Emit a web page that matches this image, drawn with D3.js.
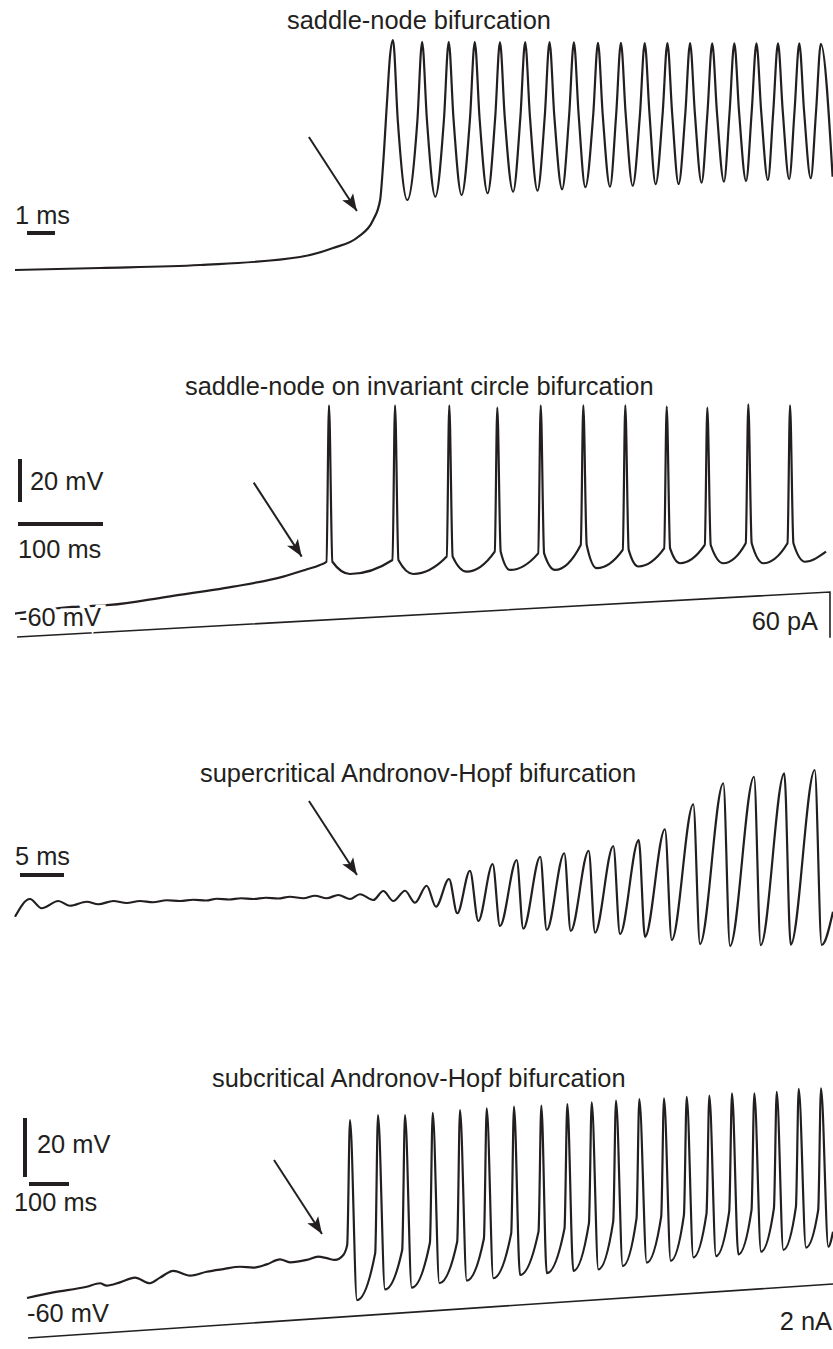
<!DOCTYPE html>
<html>
<head>
<meta charset="utf-8">
<script src="https://cdn.jsdelivr.net/npm/d3@7"></script>
<style>
  body { margin: 0; background: #fff; }
  text { font-family: "Liberation Sans", Arial, Helvetica, sans-serif; font-size: 25.4px; fill: #231f20; }
</style>
</head>
<body>
<svg id="fig" width="833" height="1349"></svg>
<script>
// saddle-node bifurcation (ms, mV)
const snRampT = [0, 3.04, 6.61, 10.18, 11.36, 12.25, 12.79, 13.04, 13.14, 13.29, 13.39];
const snRampV = [-60, -59.2, -58, -54.8, -51.2, -46.8, -40, -32, -18.8, 8, 25.2];
const snPeakT = [13.5, 14.54, 15.49, 16.42, 17.32, 18.22, 19.09, 19.96, 20.82, 21.64, 22.49, 23.3, 24.11, 24.9, 25.69, 26.48, 27.25, 28.01, 28.78];
const snPeakV = [32, 31.3, 31.3, 31.3, 31.2, 31.2, 31.2, 31.1, 30.9, 30.9, 30.8, 30.8, 30.8, 30.7, 30.7, 30.7, 30.7, 30.7, 30.5];
const snTroughT = [14.01, 15.01, 15.95, 16.88, 17.79, 18.66, 19.54, 20.37, 21.25, 22.06, 22.88, 23.7, 24.52, 25.32, 26.11, 26.89, 27.65, 28.42];
const snTroughV = [-32, -30.7, -30, -29.3, -28.7, -28.3, -27.7, -26.9, -26.7, -26.3, -25.7, -25.6, -25.1, -24.7, -24.4, -24, -23.7, -23.3];
const snEnd = [29.2, -22.7];
const snHalfWidth = 0.17; // ms from a peak to its half-height crossing

// saddle-node on invariant circle (ms, mV, pA)
const snicRampT = [0, 67.1, 111.8, 178.5, 256.8, 315.6, 341.2, 358.8];
const snicRampV = [-59.8, -56.7, -55.8, -52.0, -47.3, -42.6, -39.5, -37.2];
const snicSpikeT = [369.4, 447.1, 510.9, 567.4, 618.5, 668.6, 718.0, 766.7, 814.5, 862.7, 911.8];
const snicPeakV = [37, 37, 37, 36, 37, 37, 37, 36.5, 36, 37.5, 37];
const snicKneeV = [-35.7, -34.9, -33.3, -31, -31.8, -27.9, -30.2, -29.5, -27.9, -27.1, -27.1];
const snicTroughT = [394.1, 468.6, 531.4, 582.4, 635.3, 684.4, 733.3, 782.4, 833.3, 880.4, 929.4];
const snicTroughV = [-41.4, -41.4, -40.3, -39.5, -39.5, -38.7, -37.9, -36.4, -36.4, -36.4, -35.7];
const snicEnd = [954.1, -31.0];
const snicCurrentT = [2.4, 958.8];
const snicCurrentI = [0, 60];

// supercritical Andronov-Hopf (ms, mV)
const supStart = [0, -60.3];
const supPeakT = [1.7, 4.92, 8.15, 11.17, 14.2, 17.24, 20.26, 22.95, 25.68, 28.52, 31.25, 34.09, 36.74, 39.2, 41.85, 44.32, 46.78, 49.32, 51.7, 54.28, 57.01, 59.69, 62.42, 65.19, 67.99, 70.88, 73.86, 77.08, 80.49, 83.98, 87.42, 90.88];
const supPeakV = [-53.2, -54.0, -54.3, -54.0, -54.0, -53.7, -53.5, -53.1, -52.9, -52.7, -52.3, -51.9, -51.6, -51.3, -50.0, -49.9, -47.9, -45.2, -41.9, -39.2, -37.6, -36.3, -34.9, -33.9, -32.0, -29.6, -25.3, -15.3, -6.9, -4.3, -2.9, -1.6];
const supTroughT = [3.03, 6.25, 9.47, 12.69, 15.68, 18.75, 21.7, 24.32, 27.05, 29.89, 32.76, 35.42, 38.07, 40.72, 42.99, 45.45, 47.84, 50.26, 52.65, 55.11, 57.76, 60.42, 63.15, 65.91, 68.75, 71.59, 74.63, 77.84, 81.25, 84.74, 88.15, 91.67];
const supTroughV = [-56.9, -55.9, -55.3, -54.8, -54.5, -54.0, -53.8, -53.4, -53.2, -53.0, -52.9, -52.9, -53.2, -53.6, -54.0, -54.7, -56.3, -58.9, -62.0, -64.0, -65.1, -65.6, -66.0, -66.7, -67.3, -68.3, -69.6, -71.2, -72.0, -71.7, -71.5, -71.6];
const supEnd = [92.95, -58.3];

// subcritical Andronov-Hopf (ms, mV, nA)
const subRampT = [0, 65.8, 149.3, 182.5, 199.3, 232.5, 270, 307.5, 332.5, 365.8, 407.5, 449.3, 490.8, 532.5, 565.8, 599.3, 632.5, 657.5, 699.3, 728.3, 749.3, 770, 790.8];
const subRampV = [-60, -58.1, -56.2, -55.0, -55.8, -54.7, -53.1, -55.0, -53.1, -50.8, -52.4, -51.1, -50.2, -49.4, -49.7, -48.6, -46.9, -47.9, -47.1, -46.0, -46.5, -47.1, -45.4];
const subSpikeT = [807.5, 877.5, 945, 1014.3, 1082.5, 1149.3, 1217.5, 1285.8, 1350.8, 1411.8, 1472.5, 1530.8, 1592.5, 1649.3, 1705.8, 1762.5, 1818.3, 1874.3, 1929.3, 1985];
const subPeakV = [0.3, 2.0, 2.0, 2.8, 3.7, 4.3, 4.9, 5.2, 5.7, 6.3, 6.9, 7.4, 7.7, 8.2, 8.6, 9.4, 9.4, 9.9, 10.9, 11.1];
const subKneeV = [-42.0, -44.8, -43.7, -41.3, -40.9, -39.8, -38.1, -37.5, -36.4, -34.7, -34.1, -33.0, -32.4, -31.9, -31.3, -30.7, -30.2, -29.6, -29.1, -30.2];
const subTroughT = [825, 895, 961.8, 1030.8, 1099.3, 1165.8, 1232.5, 1299.3, 1365.8, 1428.3, 1489.3, 1549.3, 1609.3, 1665.8, 1722.5, 1778.3, 1835, 1890.8, 1947.5, 2003.3];
const subTroughV = [-60.7, -57.1, -56.5, -55.0, -54.1, -53.3, -52.2, -51.6, -50.8, -50.3, -49.2, -48.0, -47.4, -46.2, -45.8, -45.2, -44.3, -43.7, -42.9, -42.6];
const subEnd = [2015, -37.5];
const subCurrentT = [2.5, 2015];
const subCurrentI = [0, 2];

const titles = [
  "saddle-node bifurcation",
  "saddle-node on invariant circle bifurcation",
  "supercritical Andronov-Hopf bifurcation",
  "subcritical Andronov-Hopf bifurcation"
];

const INK = "#231f20";
const svg = d3.select("#fig");

svg.append("defs").append("marker")
  .attr("id", "head")
  .attr("markerUnits", "userSpaceOnUse")
  .attr("viewBox", "-18 -8 20 16")
  .attr("markerWidth", 20)
  .attr("markerHeight", 16)
  .attr("refX", 0)
  .attr("refY", 0)
  .attr("orient", "auto")
  .append("path")
  .attr("d", "M0,0 L-17,-6.5 L-13,0 L-17,6.5 Z")
  .attr("fill", INK);

function zip(a, b) {
  return a.map(function(d, i) { return [d, b[i]]; });
}

function drawTrace(knots, x, y) {
  let line = d3.line()
    .x(function(d) { return x(d[0]); })
    .y(function(d) { return y(d[1]); })
    .curve(d3.curveMonotoneX);
  svg.append("path")
    .datum(knots)
    .attr("d", line)
    .attr("fill", "none")
    .attr("stroke", INK)
    .attr("stroke-width", 2.2)
    .attr("stroke-linejoin", "round");
}

function label(str, x, y, anchor, halo) {
  let t = svg.append("text")
    .text(str)
    .attr("x", x)
    .attr("y", y)
    .attr("text-anchor", anchor || "start");
  if (halo) {
    t.attr("stroke", "#fff").attr("stroke-width", 7).attr("paint-order", "stroke");
  }
  return t;
}

function bar(x1, y1, x2, y2) {
  svg.append("line")
    .attr("x1", x1).attr("y1", y1)
    .attr("x2", x2).attr("y2", y2)
    .attr("stroke", INK)
    .attr("stroke-width", 4);
}

// arrow pointing at a (t, V) spot of a trace
function arrow(x, y, t, v) {
  let tx = x(t), ty = y(v);
  svg.append("line")
    .attr("x1", tx - 48).attr("y1", ty - 74)
    .attr("x2", tx).attr("y2", ty)
    .attr("stroke", INK)
    .attr("stroke-width", 2)
    .attr("marker-end", "url(#head)");
}

// ---- panel 1: saddle-node
let x1 = d3.scaleLinear().domain([0, 29.2]).range([15, 15 + 29.2 * 28]);
let y1 = d3.scaleLinear().domain([-60, 32]).range([270, 270 - 92 * 2.5]);
let k1 = zip(snRampT, snRampV);
snPeakT.forEach(function(t, i) {
  let prev = i > 0 ? snTroughV[i - 1] : null;
  if (prev !== null) k1.push([t - snHalfWidth, (prev + snPeakV[i]) / 2]);
  k1.push([t, snPeakV[i]]);
  if (i < snTroughT.length) {
    k1.push([t + snHalfWidth, (snTroughV[i] + snPeakV[i]) / 2]);
    k1.push([snTroughT[i], snTroughV[i]]);
  }
});
k1.push(snEnd);
drawTrace(k1, x1, y1);
label(titles[0], 287, 29);
label("1 ms", 15, 224);
bar(27, 233, 27 + x1(1) - x1(0), 233);
arrow(x1, y1, 12.21, -36.4);

// ---- panel 2: saddle-node on invariant circle
let x2 = d3.scaleLinear().domain([0, 960]).range([15, 15 + 960 * 0.85]);
let y2 = d3.scaleLinear().domain([-60, 40]).range([614, 614 - 100 * 2.15]);
let i2 = d3.scaleLinear().domain([0, 60]).range([637, 592]);
let k2 = zip(snicRampT, snicRampV);
snicSpikeT.forEach(function(t, i) {
  k2.push([t - 3, snicKneeV[i]]);
  k2.push([t, snicPeakV[i]]);
  k2.push([t + 4, snicKneeV[i]]);
  k2.push([snicTroughT[i], snicTroughV[i]]);
});
k2.push(snicEnd);
drawTrace(k2, x2, y2);
svg.append("path")
  .datum(zip(snicCurrentT, snicCurrentI).concat([[snicCurrentT[1], -1]]))
  .attr("d", d3.line().x(function(d) { return x2(d[0]); }).y(function(d) { return i2(d[1]); }))
  .attr("fill", "none")
  .attr("stroke", INK)
  .attr("stroke-width", 1.6);
label(titles[1], 185, 395);
bar(20, 502, 20, 502 - (y2(-60) - y2(-40)));
label("20 mV", 30, 490);
bar(18, 524, 18 + x2(100) - x2(0), 524);
label("100 ms", 18, 558);
label("-60 mV", 19, 626, "start", true);
label("60 pA", 818, 630, "end");
arrow(x2, y2, 337.3, -33.3);

// ---- panel 3: supercritical Andronov-Hopf
let x3 = d3.scaleLinear().domain([0, 93]).range([15, 15 + 93 * 8.8]);
let y3 = d3.scaleLinear().domain([-60, 0]).range([916, 916 - 60 * 2.5]);
let k3 = [supStart];
supPeakT.forEach(function(t, i) {
  k3.push([t, supPeakV[i]]);
  k3.push([supTroughT[i], supTroughV[i]]);
});
k3.push(supEnd);
drawTrace(k3, x3, y3);
label(titles[2], 200, 782);
label("5 ms", 15, 865);
bar(20, 875, 20 + x3(5) - x3(0), 875);
arrow(x3, y3, 38.86, -43.6);

// ---- panel 4: subcritical Andronov-Hopf
let x4 = d3.scaleLinear().domain([0, 2015]).range([27, 27 + 2015 * 0.4]);
let y4 = d3.scaleLinear().domain([-60, 20]).range([1298, 1298 - 80 * 2.95]);
let i4 = d3.scaleLinear().domain([0, 2]).range([1338, 1284]);
let k4 = zip(subRampT, subRampV);
subSpikeT.forEach(function(t, i) {
  k4.push([t - 7, subKneeV[i]]);
  k4.push([t, subPeakV[i]]);
  k4.push([subTroughT[i], subTroughV[i]]);
});
k4.push(subEnd);
drawTrace(k4, x4, y4);
svg.append("path")
  .datum(zip(subCurrentT, subCurrentI))
  .attr("d", d3.line().x(function(d) { return x4(d[0]); }).y(function(d) { return i4(d[1]); }))
  .attr("fill", "none")
  .attr("stroke", INK)
  .attr("stroke-width", 1.6);
label(titles[3], 212, 1087);
bar(25, 1177, 25, 1177 - (y4(-60) - y4(-40)));
label("20 mV", 37, 1153);
bar(29, 1184, 29 + x4(100) - x4(0), 1184);
label("100 ms", 14, 1211);
label("-60 mV", 27, 1322);
label("2 nA", 832, 1330, "end");
arrow(x4, y4, 737.5, -38.3);
</script>
</body>
</html>
